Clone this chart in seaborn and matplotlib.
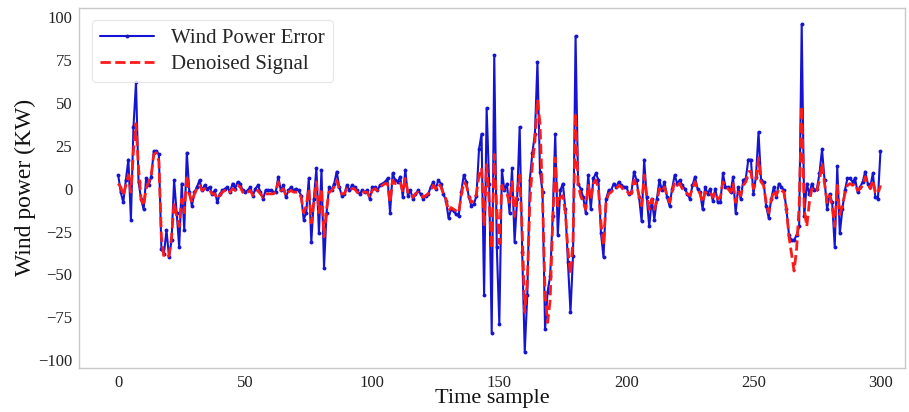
import numpy as np
import pandas as pd
import matplotlib
matplotlib.use("Agg")
import matplotlib.pyplot as plt
import seaborn as sns

# Wind power error (blue) per time sample
wind_error = [
    8, -2, -8, 5, 17, -18, 36, 62, 4, -6,
    -12, 6, 2, 7, 22, 22, 20, -35, -38, -24,
    -40, -30, 5, -14, -34, 3, -24, 21, -2, -10,
    -2, 1, 5, -1, 2, 0, 1, -3, -1, -8,
    -3, -1, 0, 1, -2, 3, 0, 4, 3, -1,
    -2, -1, 1, -4, 0, 2, -2, -6, -1, -1, -1,
    -2, -2, 7, -1, 2, -5, -1, 1, -1, 0,
    -1, -4, -18, -14, 6, -31, -6, 12, -26, 11,
    -46, -14, 1, -1, 3, 10, 1, -4, -3, 2,
    -1, 2, 1, -1, -3, -1, -2, -1, -6, 1,
    1, -1, 2, 3, 4, 6, -14, 9, 5, 4,
    7, -5, 11, -4, -1, -6, -3, -1, -3, -6, -4,
    -3, 1, 4, 0, 5, 3, -3, -7, -17, -12,
    -13, -15, -16, -2, 8, 4, -5, -10, -9, -4, 23,
    32, -62, 47, 3, -84, 78, -34, -79, 11, -1,
    3, -14, 12, -31, -6, 36, -37, -95, -62, 5,
    21, 32, 74, 10, -2, -82, -60, -51, -16, 32,
    -27, -1, 3, -12, -43, -72, -39, 89, 3, 0,
    -5, -14, 8, -12, 6, 9, 5, -26, -40, -6,
    -1, -1, 3, 1, 4, 2, 1, 1, -3, -2,
    10, 5, -5, -19, 17, -5, -22, -6, -18, -6,
    5, -1, 4, -5, -10, 0, 8, 3, 5, 2,
    0, -3, -6, 2, 7, 0, -2, -12, 1, -3,
    0, -7, 0, -8, -8, 9, 1, 1, -2, 7,
    -14, 1, -6, 5, 6, 17, 17, -3, 7, 33,
    5, 4, -10, -17, -6, 1, -5, 3, 1, -1,
    -12, -27, -30, -30, -27, -22, 96, -16, 3, -3,
    3, -1, 0, 9, 23, 5, -12, -3, -8, -34,
    13, -26, -12, -1, 6, 6, 4, 6, -2, 1, 4,
    10, 3, 1, 9, -5, -6, 22,
]

# Denoised signal (red dashed)
denoised = [
    3, 1, -4, 2, 8, -2, 22, 38, 12, -6,
    -10, 0, 4, 8, 20, 21, 16, -28, -40, -40,
    -39, -28, -8, -16, -22, -6, -14, 8, -3, -8,
    -3, 0, 2, -1, 0, -1, -1, -3, -3, -6,
    -4, -2, -1, 0, -2, 0, -1, 2, 1, -2,
    -3, -2, -1, -4, -2, -1, -3, -5, -3, -3, -3,
    -3, -2, 4, -1, 0, -4, -2, -1, -2, -2,
    -2, -5, -14, -10, 0, -20, -8, 4, -14, 0,
    -28, -12, -2, -1, 1, 5, 0, -3, -3, 0,
    -1, 0, 0, -2, -3, -2, -2, -2, -5, -1,
    0, -1, 1, 2, 3, 3, -8, 5, 3, 3,
    4, -2, 6, -2, -2, -5, -3, -2, -3, -5, -4,
    -3, -1, 2, 0, 3, 1, -3, -6, -13, -11,
    -12, -13, -14, -4, 4, 2, -4, -8, -7, -3, 8,
    12, -22, 14, -8, -35, 20, -12, -32, 2, -2,
    -3, -8, 4, -16, -2, 8, -25, -72, -55, -8,
    14, 28, 52, 38, -5, -62, -78, -65, -20, 18,
    -10, -5, -4, -14, -36, -50, -30, 44, 2, -4,
    -8, -12, 2, -6, 3, 5, 0, -20, -33, -8,
    -3, -2, 0, 0, 2, 1, -1, -1, -3, -3,
    5, 2, -4, -10, 8, -4, -12, -6, -12, -7,
    0, -2, 1, -4, -8, -2, 4, 2, 3, 0,
    -1, -3, -4, 0, 4, 0, -3, -8, -2, -3,
    -2, -5, -2, -6, -5, 4, 1, 0, -2, 3,
    -8, -2, -4, 2, 4, 10, 10, 0, 4, 18,
    4, 2, -8, -14, -7, -1, -4, 0, -1, -2,
    -12, -28, -38, -48, -35, -10, 48, -12, -22, -8,
    0, -2, -1, 5, 15, 3, -8, -4, -10, -22,
    2, -15, -10, -3, 2, 3, 2, 3, -1, 0, 2,
    7, 3, 0, 5, -2, -3, 2,
]

samples = list(range(len(wind_error)))
y_ticks = [-100, -75, -50, -25, 0, 25, 50, 75, 100]
x_ticks = [0, 50, 100, 150, 200, 250, 300]

df = pd.DataFrame({"t": samples, "err": wind_error, "den": denoised})

sns.set_theme(style="white")
plt.rcParams["font.family"] = ["Liberation Serif", "DejaVu Serif"]

fig = plt.figure(figsize=(9.09, 4.12), dpi=100)
ax = fig.add_axes([0.087, 0.107, 0.909, 0.874])

sns.lineplot(data=df, x="t", y="err", ax=ax, color="#1414d2", linewidth=1.5,
             marker="o", markersize=2.8, markeredgewidth=0,
             label="Wind Power Error")
sns.lineplot(data=df, x="t", y="den", ax=ax, color="#ff1a1a", linewidth=2.0,
             linestyle="--", label="Denoised Signal")

ax.set_xlim(-15.4, 309.8)
ax.set_ylim(-104.5, 105.5)
ax.set_xticks(x_ticks)
ax.set_yticks(y_ticks)
ax.tick_params(axis="both", labelsize=12, length=3, color="#bbbbbb",
               labelcolor="#222222", direction="out", pad=2)
ax.set_xlabel("Time sample", fontsize=16, color="#111111", labelpad=-1)
ax.set_ylabel("Wind power (KW)", fontsize=17, color="#111111", labelpad=1)
for s in ax.spines.values():
    s.set_color("#c8c8c8")
    s.set_linewidth(1.0)

leg = ax.legend(loc="upper left", fontsize=15, frameon=True,
                handlelength=2.6, borderpad=0.4, labelspacing=0.3,
                bbox_to_anchor=(0.003, 0.995))
leg.get_frame().set_edgecolor("#e0e0e0")
leg.get_frame().set_linewidth(0.8)

fig.savefig("out.png", dpi=100)
